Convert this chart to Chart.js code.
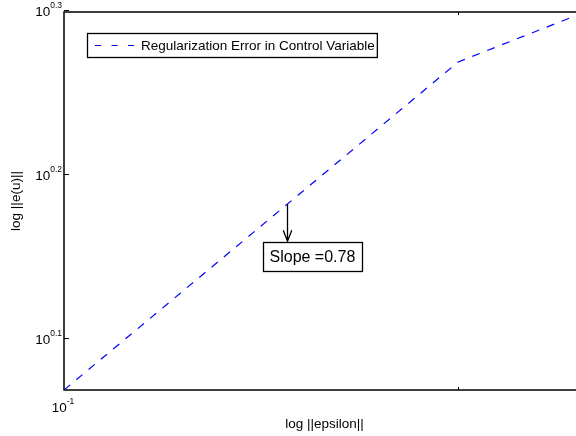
<!DOCTYPE html>
<html>
<head>
<meta charset="utf-8">
<script src="https://cdn.jsdelivr.net/npm/chart.js@4/dist/chart.umd.min.js"></script>
<style>
  html, body { margin: 0; padding: 0; overflow: hidden; background: #fff; }
  #wrap { width: 576px; height: 436px; overflow: hidden; }
</style>
</head>
<body>
<div id="wrap"><canvas id="plot" width="585" height="436"></canvas></div>
<script>
// data (log-log axes, tight limits)
var epsilonValues = [0.1, 0.2, 0.25];
var errorValues = [1.17, 1.855, 1.99];
var seriesLabel = 'Regularization Error in Control Variable';

var xRange = [0.1, 0.25];
var yRange = [1.17, 1.99];

// tick labels are 10^exponent
var xTickExps = ['-1'];
var xTickVals = [0.1];
var xMinorVals = [0.2];
var yTickExps = ['0.1', '0.2', '0.3'];
var yTickVals = [Math.pow(10, 0.1), Math.pow(10, 0.2), Math.pow(10, 0.3)];

var xTitle = 'log ||epsilon||';
var yTitle = 'log ||e(u)||';

// the slope note points at the line at this data point
var slopeText = 'Slope =0.78';
var slopeAt = [0.148, 1.519];

var FONT = '"Liberation Sans", Arial, Helvetica, sans-serif';

function powLabel(ctx, exp, x, y, align) {
  ctx.font = '13.5px ' + FONT;
  var wb = ctx.measureText('10').width;
  ctx.font = '8.5px ' + FONT;
  var we = ctx.measureText(exp).width;
  var x0 = align == 'right' ? x - wb - we : x - (wb + we) / 2;
  ctx.textAlign = 'left';
  ctx.textBaseline = 'alphabetic';
  ctx.font = '13.5px ' + FONT;
  ctx.fillText('10', x0, y);
  ctx.font = '8.5px ' + FONT;
  ctx.fillText(exp, x0 + wb, y - 8);
}

var matlabAxes = {
  id: 'matlabAxes',
  afterDraw: function(chart) {
    var ctx = chart.ctx;
    var a = chart.chartArea;
    var xs = chart.scales.x, ys = chart.scales.y;
    ctx.save();
    ctx.strokeStyle = '#000';
    ctx.fillStyle = '#000';
    ctx.lineWidth = 1.5;
    ctx.setLineDash([]);

    // box
    ctx.strokeRect(a.left, a.top, a.right - a.left, a.bottom - a.top);

    // ticks (inward)
    ctx.lineWidth = 1;
    ctx.beginPath();
    yTickVals.forEach(function(v) {
      var py = Math.round(ys.getPixelForValue(v)) + 0.5;
      ctx.moveTo(a.left, py); ctx.lineTo(a.left + 5, py);
      ctx.moveTo(a.right, py); ctx.lineTo(a.right - 5, py);
    });
    xMinorVals.forEach(function(v) {
      var px = Math.round(xs.getPixelForValue(v)) + 0.5;
      ctx.moveTo(px, a.bottom); ctx.lineTo(px, a.bottom - 3);
      ctx.moveTo(px, a.top); ctx.lineTo(px, a.top + 3);
    });
    ctx.stroke();

    // tick labels
    yTickVals.forEach(function(v, i) {
      var py = ys.getPixelForValue(v);
      powLabel(ctx, yTickExps[i], a.left - 2, py + 6, 'right');
    });
    xTickVals.forEach(function(v, i) {
      var px = xs.getPixelForValue(v);
      powLabel(ctx, xTickExps[i], px - 1, a.bottom + 22, 'center');
    });

    // axis titles
    ctx.font = '13.5px ' + FONT;
    ctx.textAlign = 'center';
    ctx.textBaseline = 'middle';
    ctx.fillText(xTitle, (a.left + a.right) / 2, a.bottom + 34);
    ctx.save();
    ctx.translate(16, (a.top + a.bottom) / 2);
    ctx.rotate(-Math.PI / 2);
    ctx.fillText(yTitle, 0, 0);
    ctx.restore();

    // legend
    var lx = a.left + 23, ly = a.top + 21;
    ctx.font = '13.5px ' + FONT;
    var tw = ctx.measureText(seriesLabel).width;
    ctx.fillStyle = '#fff';
    ctx.fillRect(lx, ly, 54 + tw + 2, 24);
    ctx.strokeStyle = '#000';
    ctx.lineWidth = 1.3;
    ctx.strokeRect(lx + 0.5, ly + 0.5, 54 + tw + 2, 24);
    ctx.strokeStyle = '#0000ff';
    ctx.lineWidth = 1;
    ctx.setLineDash([6, 10.5]);
    ctx.beginPath();
    ctx.moveTo(lx + 8, ly + 12.5); ctx.lineTo(lx + 47, ly + 12.5);
    ctx.stroke();
    ctx.setLineDash([]);
    ctx.fillStyle = '#000';
    ctx.textAlign = 'left';
    ctx.textBaseline = 'middle';
    ctx.fillText(seriesLabel, lx + 54, ly + 13);

    // slope annotation
    var ax = Math.round(xs.getPixelForValue(slopeAt[0])) + 0.5;
    var ay = ys.getPixelForValue(slopeAt[1]);
    var hy = ay + 37;
    ctx.strokeStyle = '#000';
    ctx.lineWidth = 1.3;
    ctx.beginPath();
    ctx.moveTo(ax, ay); ctx.lineTo(ax, hy);
    ctx.moveTo(ax - 4.3, hy - 11); ctx.lineTo(ax, hy); ctx.lineTo(ax + 4.3, hy - 11);
    ctx.stroke();
    var bx = Math.round(ax - 25) + 0.5, by = Math.round(hy + 1) + 0.5;
    ctx.fillStyle = '#fff';
    ctx.fillRect(bx, by, 99, 29);
    ctx.strokeRect(bx, by, 99, 29);
    ctx.fillStyle = '#000';
    ctx.font = '16px ' + FONT;
    ctx.textBaseline = 'middle';
    ctx.fillText(slopeText, bx + 6, by + 15);

    ctx.restore();
  }
};

var ctx = document.getElementById('plot').getContext('2d');

var points = epsilonValues.map(function(x, i) { return { x: x, y: errorValues[i] }; });

var chart = new Chart(ctx, {
  type: 'scatter',
  data: {
    datasets: [{
      label: seriesLabel,
      data: points,
      showLine: true,
      fill: false,
      borderColor: '#0000ff',
      borderWidth: 1.2,
      borderDash: [8, 8],
      pointRadius: 0,
      tension: 0
    }]
  },
  options: {
    responsive: false,
    devicePixelRatio: 1,
    animation: false,
    layout: { padding: { left: 64, top: 12, right: 0, bottom: 46 } },
    plugins: { legend: { display: false }, tooltip: { enabled: false } },
    scales: {
      x: { type: 'logarithmic', min: xRange[0], max: xRange[1], display: false },
      y: { type: 'logarithmic', min: yRange[0], max: yRange[1], display: false }
    }
  },
  plugins: [matlabAxes]
});
</script>
</body>
</html>
